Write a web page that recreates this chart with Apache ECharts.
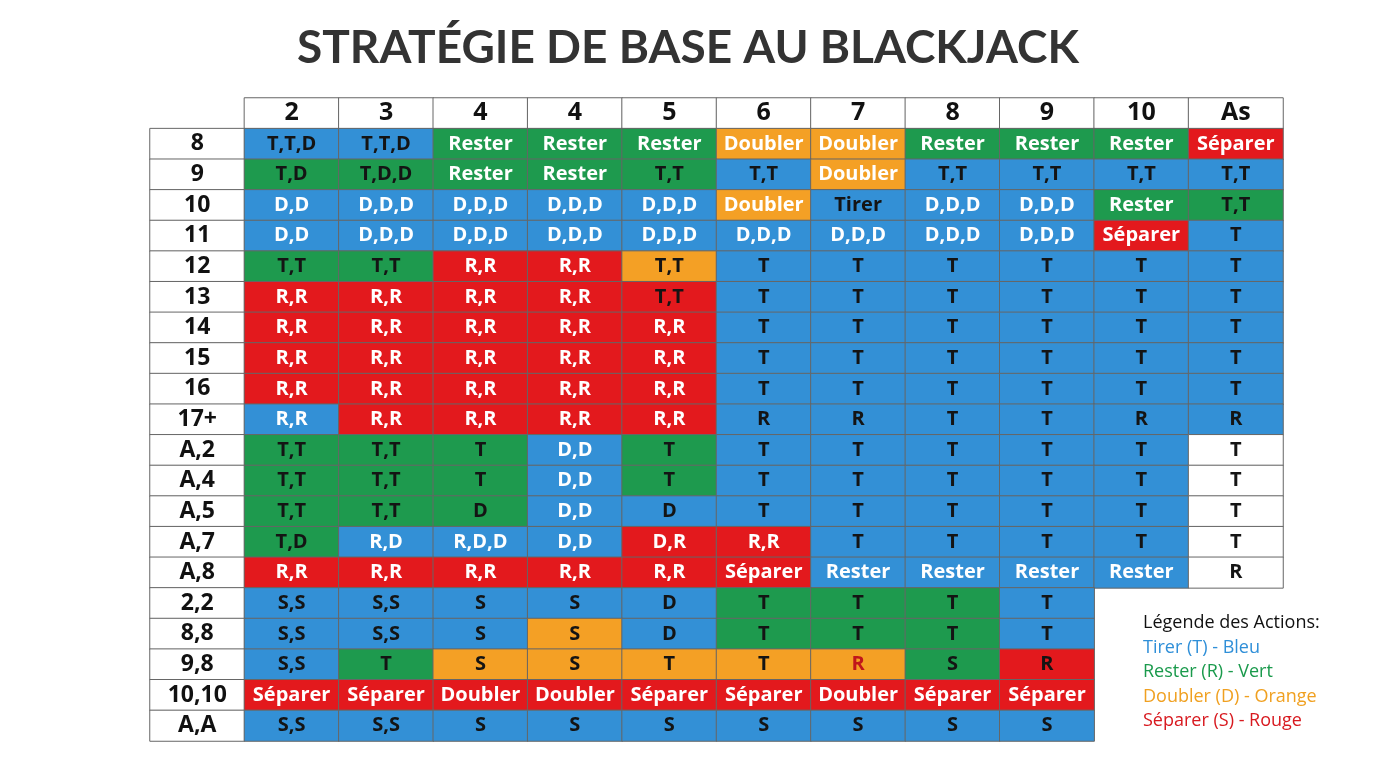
<!DOCTYPE html>
<html><head><meta charset="utf-8">
<script src="https://cdn.jsdelivr.net/npm/echarts@6/dist/echarts.min.js"></script>
<style>html,body{margin:0;padding:0;background:#fff}#c{width:1376px;height:768px}</style>
</head><body><div id="c"></div>
<script>
const dealerCards = ['2','3','4','4','5','6','7','8','9','10','As'];
const playerHands = ['8','9','10','11','12','13','14','15','16','17+','A,2','A,4','A,5','A,7','A,8','2,2','8,8','9,8','10,10','A,A'];
const actions = [
 ['T,T,D','T,T,D','Rester','Rester','Rester','Doubler','Doubler','Rester','Rester','Rester','Séparer'],
 ['T,D','T,D,D','Rester','Rester','T,T','T,T','Doubler','T,T','T,T','T,T','T,T'],
 ['D,D','D,D,D','D,D,D','D,D,D','D,D,D','Doubler','Tirer','D,D,D','D,D,D','Rester','T,T'],
 ['D,D','D,D,D','D,D,D','D,D,D','D,D,D','D,D,D','D,D,D','D,D,D','D,D,D','Séparer','T'],
 ['T,T','T,T','R,R','R,R','T,T','T','T','T','T','T','T'],
 ['R,R','R,R','R,R','R,R','T,T','T','T','T','T','T','T'],
 ['R,R','R,R','R,R','R,R','R,R','T','T','T','T','T','T'],
 ['R,R','R,R','R,R','R,R','R,R','T','T','T','T','T','T'],
 ['R,R','R,R','R,R','R,R','R,R','T','T','T','T','T','T'],
 ['R,R','R,R','R,R','R,R','R,R','R','R','T','T','R','R'],
 ['T,T','T,T','T','D,D','T','T','T','T','T','T','T'],
 ['T,T','T,T','T','D,D','T','T','T','T','T','T','T'],
 ['T,T','T,T','D','D,D','D','T','T','T','T','T','T'],
 ['T,D','R,D','R,D,D','D,D','D,R','R,R','T','T','T','T','T'],
 ['R,R','R,R','R,R','R,R','R,R','Séparer','Rester','Rester','Rester','Rester','R'],
 ['S,S','S,S','S','S','D','T','T','T','T','',''],
 ['S,S','S,S','S','S','D','T','T','T','T','',''],
 ['S,S','T','S','S','T','T','R','S','R','',''],
 ['Séparer','Séparer','Doubler','Doubler','Séparer','Séparer','Doubler','Séparer','Séparer','',''],
 ['S,S','S,S','S','S','S','S','S','S','S','','']
];
const cellColors = [
 'BBGGGOOGGGR',
 'GGGGGBOBBBB',
 'BBBBBOBBBGG',
 'BBBBBBBBBRB',
 'GGRROBBBBBB',
 'RRRRRBBBBBB',
 'RRRRRBBBBBB',
 'RRRRRBBBBBB',
 'RRRRRBBBBBB',
 'BRRRRBBBBBB',
 'GGGBGBBBBBW',
 'GGGBGBBBBBW',
 'GGGBBBBBBBW',
 'GBBBRRBBBBW',
 'RRRRRRBBBBW',
 'BBBBBGGGB--',
 'BBBOBGGGB--',
 'BGOOOOOGR--',
 'RRRRRRRRR--',
 'BBBBBBBBB--'
];
const legendLines = [['Légende des Actions:','#111'],['Tirer (T) - Bleu','#2f8fd8'],['Rester (R) - Vert','#1a9a4c'],['Doubler (D) - Orange','#f0a020'],['Séparer (S) - Rouge','#d8191f']];

const pal = {B:'#3390d6',G:'#1e9a4e',O:'#f4a025',R:'#e3191d',W:'#ffffff'};
const darkText = new Set(['T','R','S','D','T,T','T,D','T,T,D','T,D,D','S,S','Tirer']);
const xCats = Array.from({length: dealerCards.length+1}, (_,i)=>'c'+i);
const yCats = Array.from({length: playerHands.length+1}, (_,i)=>'r'+i);
const data = [];
dealerCards.forEach((c,i)=>data.push({name:c,value:[i+1,0,0],itemStyle:{color:'#fff'},label:{color:'#111',fontSize:25}}));
playerHands.forEach((h,j)=>{
  data.push({name:h,value:[0,j+1,0],itemStyle:{color:'#fff'},label:{color:'#111',fontSize:23}});
  for(let i=0;i<dealerCards.length;i++){
    const code=cellColors[j][i]; if(code==='-') continue;
    const t=actions[j][i];
    let tc = (code==='W'||darkText.has(t))?'#141414':'#fff';
    if(j===17&&i===6) tc='#c0161b';
    data.push({name:t,value:[i+1,j+1,0],itemStyle:{color:pal[code]},label:{color:tc}});
  }
});
const chart=echarts.init(document.getElementById('c'));
chart.setOption({
  animation:false,
  title:{text:'STRATÉGIE DE BASE AU BLACKJACK',left:'center',top:20,textStyle:{fontSize:46,fontWeight:'bold',color:'#333',fontFamily:'Lato, Open Sans, sans-serif'}},
  grid:{left:150,right:93,top:98,bottom:27},
  xAxis:{type:'category',data:xCats,show:false},
  yAxis:{type:'category',data:yCats,inverse:true,show:false},
  series:[{type:'heatmap',data:data,
    itemStyle:{borderColor:'#666',borderWidth:1},
    label:{show:true,formatter:p=>p.name,fontSize:20,fontWeight:'bold',fontFamily:'Open Sans, sans-serif'}}],
  graphic: legendLines.map((l,k)=>({type:'text',left:1143,top:614+k*24.5,style:{text:l[0],fill:l[1],fontSize:18,fontFamily:'Open Sans, sans-serif',fontWeight:k===0?'500':'normal'}}))
});
</script></body></html>
